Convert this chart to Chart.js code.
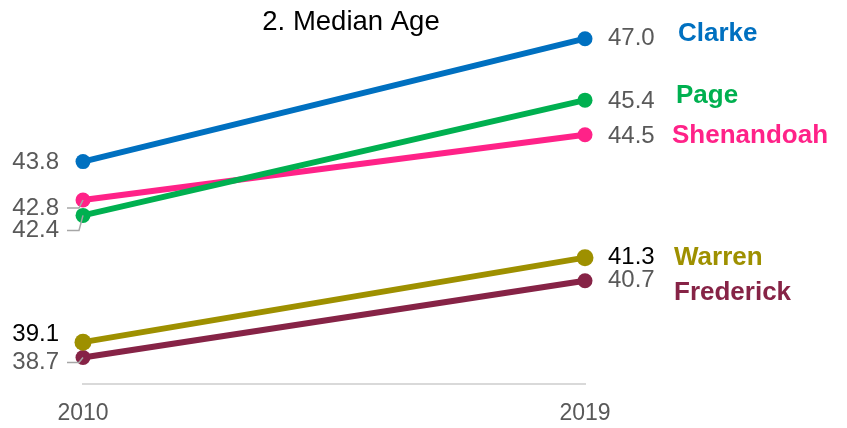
<!DOCTYPE html>
<html>
<head>
<meta charset="utf-8">
<script src="https://cdn.jsdelivr.net/npm/chart.js@4"></script>
<style>
    html, body { margin: 0; padding: 0; background: #ffffff; }
    #wrap { width: 847px; height: 428px; position: relative; }
</style>
</head>
<body>
<div id="wrap"><canvas id="medianAgeChart"></canvas></div>
<script>
// Data
const years = ['2010', '2019'];
const counties = ['Clarke', 'Page', 'Shenandoah', 'Warren', 'Frederick'];
const clarkeAge = [43.8, 47.0];
const pageAge = [42.4, 45.4];
const shenandoahAge = [42.8, 44.5];
const warrenAge = [39.1, 41.3];
const frederickAge = [38.7, 40.7];

// Styles
const seriesColors = ['#0070C0', '#00B050', '#FF2288', '#9E9000', '#862346'];
const pointSizes = [7.5, 7.5, 7.5, 8.5, 7.5];
const valueColors = ['#595959', '#595959', '#595959', '#000000', '#595959'];
// label nudges (px) so labels don't collide: [left value, right value, name]
const leftNudge = [1, 15, 8, -8, 5];
const rightNudge = [0, 1, 2, 0, 0];
const nameNudge = [-5, -4, 1, 0, 12];
const nameShiftX = [70, 68, 64, 66, 66];

const FONT = '"Liberation Sans", Arial, sans-serif';

// Draws title, value labels, county names and leader lines
const labelPlugin = {
    id: 'labelPlugin',
    afterDatasetsDraw(chart) {
        const ctx = chart.ctx;
        ctx.save();

        // leader lines for nudged left labels
        ctx.strokeStyle = '#a6a6a6';
        ctx.lineWidth = 1.5;
        chart.data.datasets.forEach((ds, i) => {
            const pt = chart.getDatasetMeta(i).data[0];
            const ly = pt.y + leftNudge[i];
            if (leftNudge[i] > 4) {
                ctx.beginPath();
                ctx.moveTo(pt.x - 16, ly);
                ctx.lineTo(pt.x - 4, ly);
                ctx.lineTo(pt.x, pt.y);
                ctx.stroke();
            }
        });

        ctx.textBaseline = 'middle';

        // title
        ctx.fillStyle = '#000000';
        ctx.font = '27.5px ' + FONT;
        ctx.textAlign = 'center';
        ctx.fillText('2. Median Age', 351, 22);

        chart.data.datasets.forEach((ds, i) => {
            const meta = chart.getDatasetMeta(i);
            const p0 = meta.data[0];
            const p1 = meta.data[1];

            ctx.font = '24px ' + FONT;
            ctx.fillStyle = valueColors[i];
            ctx.textAlign = 'right';
            ctx.fillText(ds.data[0].toFixed(1), p0.x - 24, p0.y + leftNudge[i]);

            ctx.textAlign = 'left';
            ctx.fillText(ds.data[1].toFixed(1), p1.x + 23, p1.y + rightNudge[i]);

            ctx.font = 'bold 26px ' + FONT;
            ctx.fillStyle = seriesColors[i];
            ctx.fillText(ds.label, p1.x + 23 + nameShiftX[i], p1.y + nameNudge[i]);
        });
        ctx.restore();
    }
};

function initializeMedianAgeChart() {
    const ctx = document.getElementById('medianAgeChart');
    const seriesData = [clarkeAge, pageAge, shenandoahAge, warrenAge, frederickAge];

    const datasets = counties.map((name, i) => ({
        label: name,
        data: seriesData[i],
        borderColor: seriesColors[i],
        backgroundColor: seriesColors[i],
        pointBackgroundColor: seriesColors[i],
        pointBorderColor: seriesColors[i],
        borderWidth: 6,
        pointRadius: pointSizes[i],
        pointBorderWidth: 0,
        tension: 0,
        clip: false
    }));

    new Chart(ctx, {
        type: 'line',
        data: { labels: years, datasets: datasets },
        options: {
            responsive: true,
            maintainAspectRatio: false,
            animation: false,
            layout: {
                padding: { left: 83, right: 262, top: 31, bottom: -14 }
            },
            plugins: {
                legend: { display: false },
                title: { display: false },
                tooltip: { enabled: false }
            },
            scales: {
                x: {
                    offset: false,
                    grid: { display: false, drawTicks: false },
                    border: { display: true, color: '#d9d9d9', width: 2 },
                    ticks: {
                        color: '#595959',
                        padding: 15,
                        font: { family: FONT, size: 23 }
                    }
                },
                y: {
                    display: false,
                    min: 38.0,
                    max: 47.2
                }
            }
        },
        plugins: [labelPlugin]
    });
}

document.addEventListener('DOMContentLoaded', initializeMedianAgeChart);
</script>
</body>
</html>
